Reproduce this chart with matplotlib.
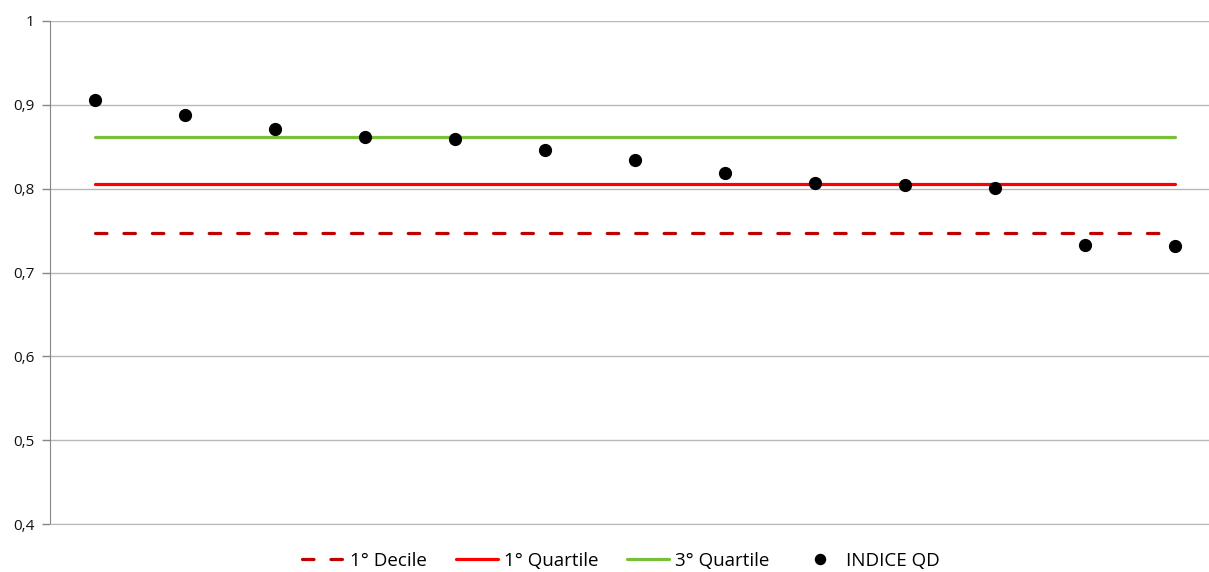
import numpy as np
import matplotlib.pyplot as plt
from matplotlib.ticker import FuncFormatter

# Index values per unit (13 categories) and reference levels
indice_qd = [0.905, 0.888, 0.871, 0.861, 0.859, 0.846, 0.834, 0.8186, 0.8063, 0.8046, 0.801, 0.733, 0.731]
decile_1 = 0.7467
quartile_1 = 0.8051
quartile_3 = 0.8618
yticks = [0.4, 0.5, 0.6, 0.7, 0.8, 0.9, 1.0]

plt.rcParams['font.family'] = ['Open Sans', 'DejaVu Sans']
plt.rcParams['font.size'] = 11

fig = plt.figure(figsize=(12.09, 5.72), dpi=100)
ax = fig.add_axes([50/1209, 1 - 524.3/572, 1170/1209, 503.6/572])

x = np.arange(len(indice_qd))
ax.plot(x, [decile_1] * len(x), color='#C00000', lw=2.3, dashes=(3.6, 5.3),
        dash_capstyle='round', solid_capstyle='round', label="1° Decile")
ax.plot(x, [quartile_1] * len(x), color='#FF0000', lw=2.3, solid_capstyle='round', label="1° Quartile")
ax.plot(x, [quartile_3] * len(x), color='#78C03A', lw=2.3, solid_capstyle='round', label="3° Quartile")
ax.plot(x, indice_qd, ls='none', marker='o', ms=8.5, color='black', label="INDICE QD", zorder=5)

ax.set_xlim(-0.5, len(x) - 0.5)
ax.set_ylim(0.4, 1.0)
ax.set_yticks(yticks)
ax.yaxis.set_major_formatter(FuncFormatter(lambda v, p: ("%g" % round(v, 2)).replace('.', ',')))
ax.set_xticks([])
ax.yaxis.grid(True, color='#B8B8B8', lw=1)
ax.set_axisbelow(True)
for s in ['top', 'right']:
    ax.spines[s].set_visible(False)
ax.spines['left'].set_color('#868686')
ax.spines['bottom'].set_color('#B8B8B8')
ax.tick_params(axis='y', length=6, width=1, color='#868686', pad=5, labelcolor='#111111')

fig.legend(loc='center', bbox_to_anchor=(621/1209, 1 - 561/572), ncol=4, frameon=False,
           fontsize=13.5, handlelength=2.25, handletextpad=0.3, columnspacing=1.55,
           markerscale=0.85)

fig.savefig("out.png", dpi=100)
